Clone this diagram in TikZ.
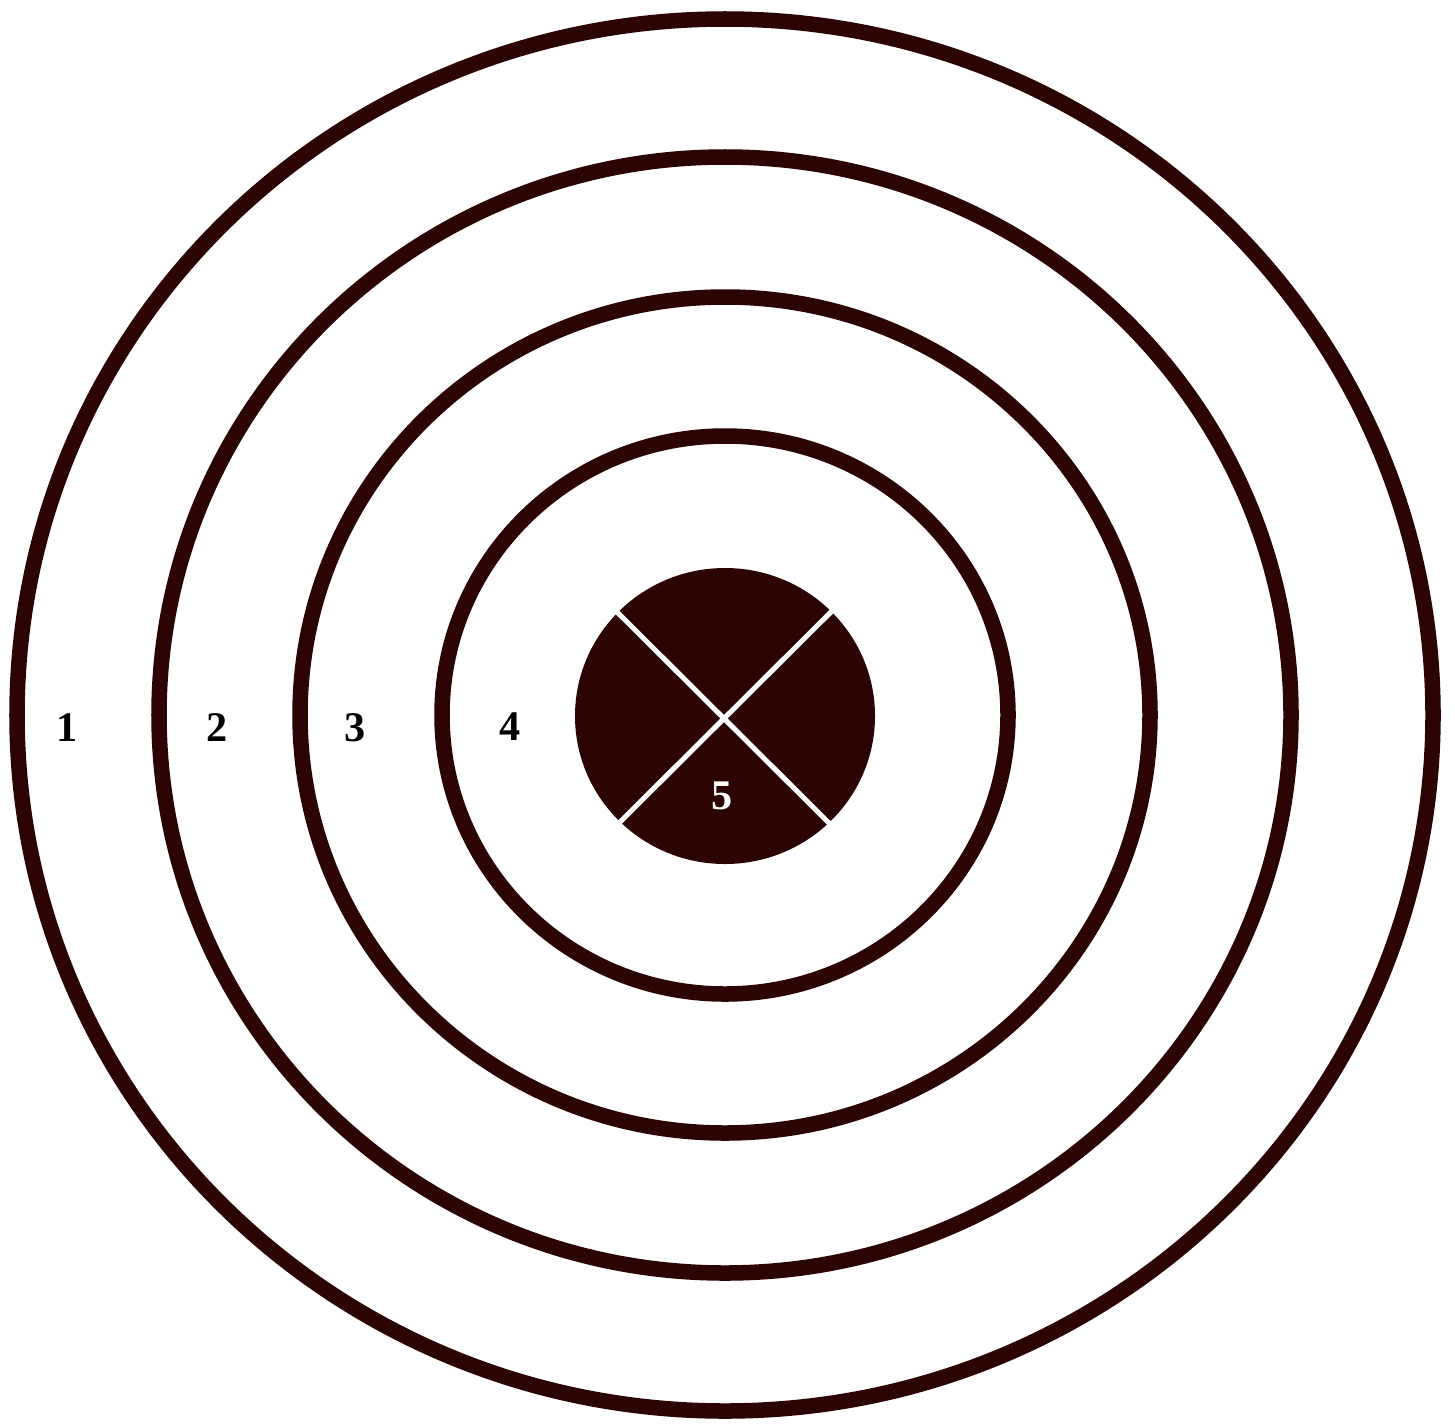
\documentclass[tikz,border=0pt]{standalone}
\usepackage{fontspec}
\setmainfont{Liberation Serif}
\definecolor{maroon}{RGB}{45,4,4}
\begin{document}
\begin{tikzpicture}[x=0.01cm,y=-0.01cm,
  ring/.style={draw=maroon,line width=0.155cm},
  lbl/.style={font=\fontsize{12}{14}\selectfont\bfseries,inner sep=0pt},
  crossline/.style={draw=white,line width=0.05cm}]
\useasboundingbox[fill=white] (0,0) rectangle (1455,1424);
\coordinate (c) at (725,715);
\draw[ring] (c) ellipse [x radius=708, y radius=696];
\draw[ring] (c) ellipse [x radius=566, y radius=558];
\draw[ring] (c) ellipse [x radius=425, y radius=418];
\draw[ring] (c) ellipse [x radius=283, y radius=279];
\fill[maroon] (725,716) ellipse [x radius=150, y radius=148];
\coordinate (ul) at (615,610);
\coordinate (lr) at (836,830);
\coordinate (ur) at (836,607);
\coordinate (ll) at (618,824);
\draw[crossline] (ul) -- (lr);
\draw[crossline] (ur) -- (ll);
\node[lbl] (l1) at (67,728) {1};
\node[lbl] (l2) at (217,728) {2};
\node[lbl] (l3) at (355,728) {3};
\node[lbl] (l4) at (510,727) {4};
\node[lbl,text=white] (l5) at (722,796) {5};
\end{tikzpicture}
\end{document}
